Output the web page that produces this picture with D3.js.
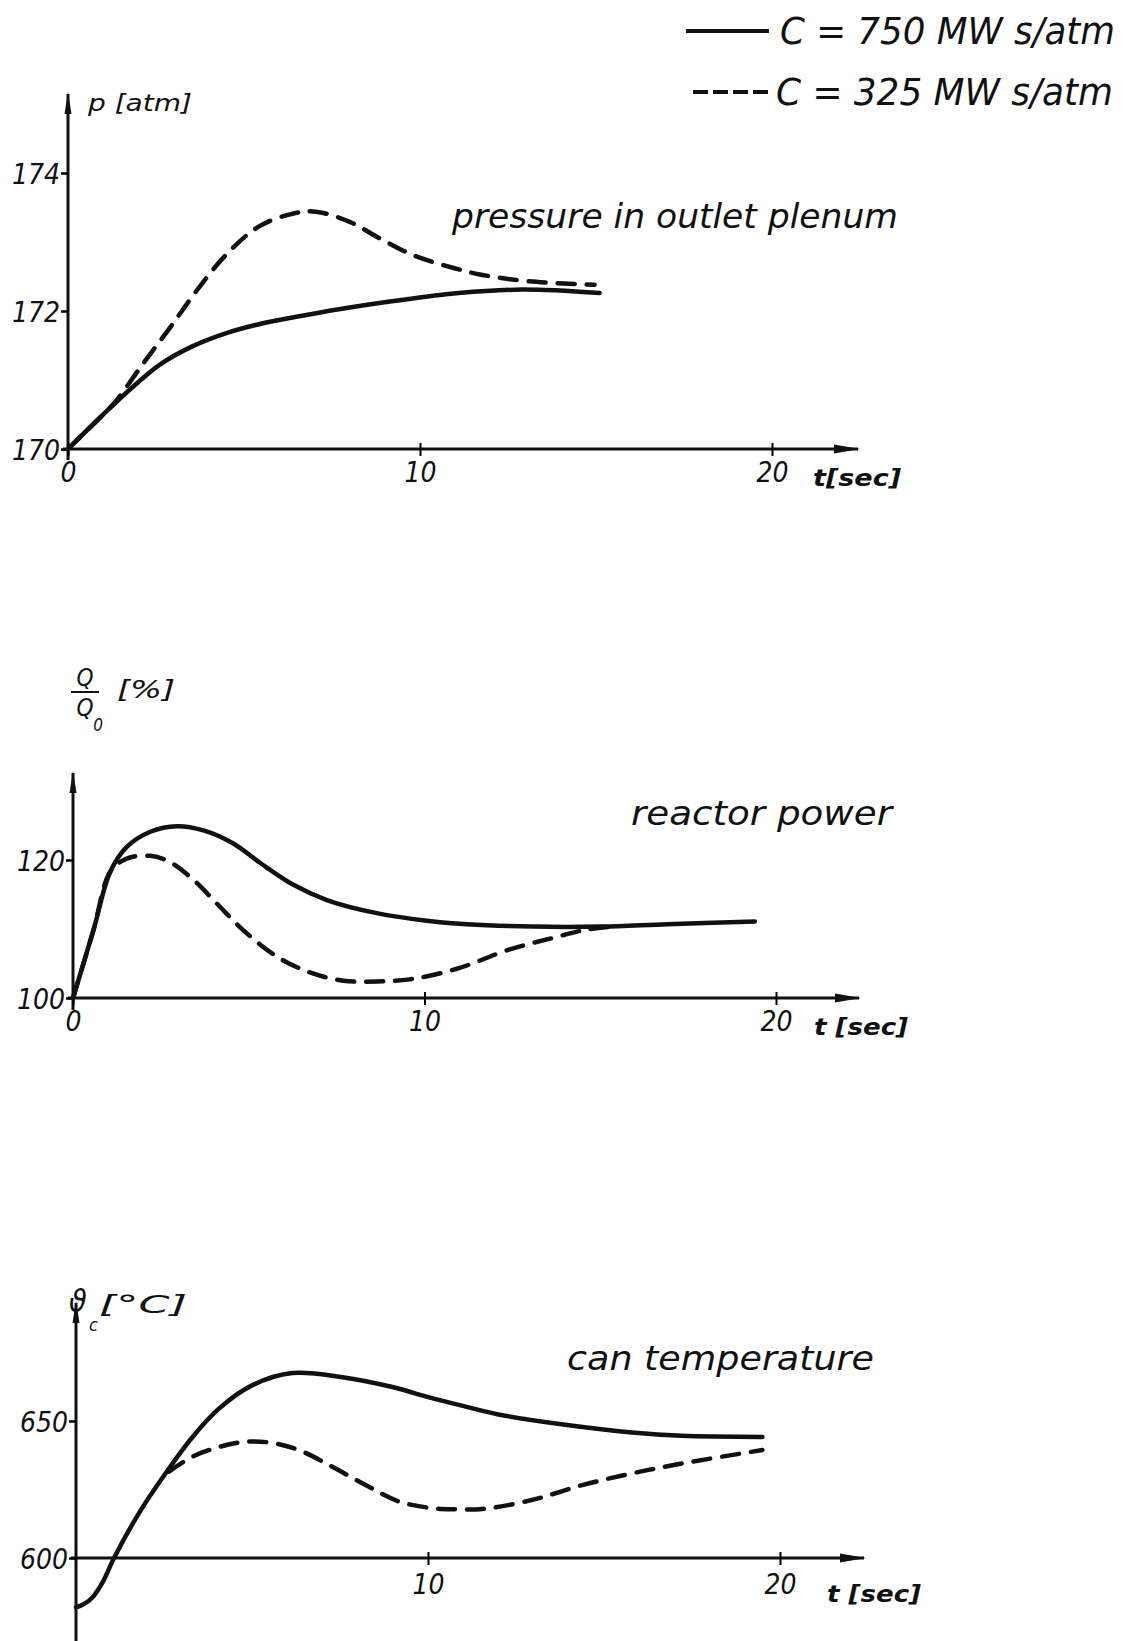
<!DOCTYPE html>
<html>
<head>
<meta charset="utf-8">
<script src="https://cdn.jsdelivr.net/npm/d3@7"></script>
<style>
  body { margin: 0; background: #fff; }
  text { font-family: "DejaVu Sans Condensed", "DejaVu Sans", sans-serif; font-style: italic; fill: #111; }
</style>
</head>
<body>
<div id="chart"></div>
<script>
// ---- data ----
const legendLabels = ["C = 750 MW s/atm", "C = 325 MW s/atm"];
const panelTitles = ["pressure in outlet plenum", "reactor power", "can temperature"];

// pressure in outlet plenum [atm]
const pTicks = [170, 172, 174];
const pTimeSolid = [0, 1.0, 1.8, 2.6, 3.5, 4.5, 5.6, 6.85, 8.0, 9.2, 11.1, 12.9, 15.1];
const pSolid = [170, 170.5, 170.88, 171.22, 171.48, 171.68, 171.83, 171.95, 172.05, 172.14, 172.26, 172.31, 172.26];
const pTimeDashed = [0, 1.0, 1.4, 2.15, 2.9, 3.65, 4.5, 5.44, 6.38, 7.03, 7.97, 8.9, 9.85, 10.98, 11.7, 13.1, 14.96];
const pDashed = [170, 170.5, 170.72, 171.25, 171.76, 172.29, 172.82, 173.23, 173.41, 173.44, 173.3, 173.04, 172.8, 172.62, 172.53, 172.43, 172.38];

// reactor power Q/Q0 [%]
const qTicks = [100, 120];
const qTimeSolid = [0, 0.58, 1.06, 1.53, 2.2, 2.95, 3.71, 4.56, 5.32, 6.27, 7.22, 8.64, 10.06, 11.2, 13.1, 15.0, 16.9, 19.4];
const qSolid = [100, 109.8, 118.3, 121.9, 124.1, 124.9, 124.3, 122.4, 119.6, 116.4, 114.2, 112.3, 111.2, 110.7, 110.35, 110.35, 110.7, 111.1];
const qTimeDashed = [0, 0.58, 1.06, 1.53, 2.2, 2.76, 3.43, 4.09, 4.85, 5.8, 6.74, 7.69, 8.64, 9.58, 10.9, 12.4, 13.65, 14.6, 15.5];
const qDashed = [100, 109.8, 118.3, 120.2, 120.6, 119.7, 117.1, 113.7, 109.8, 106.0, 103.7, 102.5, 102.4, 102.7, 104.2, 107, 108.7, 109.9, 110.4];

// can temperature [°C]
const cTicks = [600, 650];
const cTimeSolid = [0, 0.2, 0.46, 0.75, 1.08, 1.79, 2.55, 3.3, 4.06, 5.0, 6.14, 7.57, 8.99, 9.93, 10.9, 12.0, 13.9, 15.8, 17.2, 19.5];
const cSolid = [582, 583, 585.5, 591, 600, 616.4, 631, 644, 654.5, 663, 667.5, 666, 662.4, 659, 655.8, 652.4, 648.6, 645.8, 644.6, 644.2];
const cTimeDashed = [2.64, 3.3, 4.06, 4.82, 5.58, 6.33, 7.28, 8.23, 9.18, 10.12, 10.79, 11.54, 12.96, 14.38, 15.8, 17.22, 19.5];
const cDashed = [631.5, 636.9, 640.5, 642.4, 642, 639.4, 633.3, 626.6, 620.6, 618.2, 617.8, 617.9, 621.2, 626.6, 630.9, 634.5, 639.4];

// ---- setup ----
const width = 1123, height = 1641;
const svg = d3.select("#chart").append("svg")
    .attr("width", width)
    .attr("height", height);

const defs = svg.append("defs");
// arrow heads for the axes
defs.append("marker").attr("id", "arrowX")
    .attr("markerUnits", "userSpaceOnUse")
    .attr("viewBox", "0 0 26 12").attr("refX", 24).attr("refY", 6)
    .attr("markerWidth", 26).attr("markerHeight", 12).attr("orient", "auto")
    .append("path").attr("d", "M0,1.5 L26,6 L0,10.5 Z").attr("fill", "#111");
defs.append("marker").attr("id", "arrowY")
    .attr("markerUnits", "userSpaceOnUse")
    .attr("viewBox", "0 0 22 10").attr("refX", 20).attr("refY", 5)
    .attr("markerWidth", 22).attr("markerHeight", 10).attr("orient", "auto")
    .append("path").attr("d", "M0,1.5 L22,5 L0,8.5 Z").attr("fill", "#111");

const solidStyle = {width: 4.5, dash: null};
const dashedStyle = {width: 4.5, dash: "17,12"};

// legend (top right)
const legend = svg.append("g");
legend.append("line").attr("x1", 686).attr("x2", 769).attr("y1", 31).attr("y2", 31)
    .attr("stroke", "#111").attr("stroke-width", 4);
legend.append("text").attr("x", 780).attr("y", 44)
    .attr("textLength", 335).attr("lengthAdjust", "spacingAndGlyphs")
    .style("font-size", "37px").text(legendLabels[0]);
legend.append("line").attr("x1", 693).attr("x2", 773).attr("y1", 92).attr("y2", 92)
    .attr("stroke", "#111").attr("stroke-width", 4).attr("stroke-dasharray", "15,5");
legend.append("text").attr("x", 776).attr("y", 105)
    .attr("textLength", 337).attr("lengthAdjust", "spacingAndGlyphs")
    .style("font-size", "37px").text(legendLabels[1]);

function drawPanel(p) {
    const x = d3.scaleLinear().domain([0, 20]).range(p.xRange);
    const y = d3.scaleLinear().domain(p.yDomain).range(p.yRange);
    const y0 = y(p.yDomain[0]);
    const g = svg.append("g");

    // axes lines with arrows
    g.append("line")
        .attr("x1", x(0)).attr("x2", x(0))
        .attr("y1", p.yAxisBottom).attr("y2", p.yAxisTop)
        .attr("stroke", "#111").attr("stroke-width", 3)
        .attr("marker-end", "url(#arrowY)");
    g.append("line")
        .attr("x1", x(0) - 5).attr("x2", p.xAxisEnd)
        .attr("y1", y0).attr("y2", y0)
        .attr("stroke", "#111").attr("stroke-width", 3)
        .attr("marker-end", "url(#arrowX)");

    // y ticks
    const yAxis = d3.axisLeft(y).tickValues(p.yTicks).tickSize(7).tickPadding(1).tickFormat(d3.format("d"));
    const ya = g.append("g").attr("transform", `translate(${x(0)},0)`).call(yAxis);
    ya.select(".domain").remove();
    ya.selectAll(".tick line").attr("stroke-width", 2.5);
    ya.selectAll(".tick text").style("font-size", "28px").attr("dy", "0.36em");

    // x ticks
    const xAxis = d3.axisBottom(x).tickValues(p.xTicks).tickSize(7).tickPadding(p.xPad).tickFormat(d3.format("d"));
    const xa = g.append("g").attr("transform", `translate(0,${y0})`).call(xAxis);
    xa.select(".domain").remove();
    xa.selectAll(".tick line").attr("y1", -6).attr("stroke-width", 2);
    xa.selectAll(".tick text").style("font-size", "28px");

    // curves
    const line = d3.line()
        .x(d => x(d[0]))
        .y(d => y(d[1]))
        .curve(d3.curveCatmullRom.alpha(0.5));
    p.series.forEach(s => {
        g.append("path")
            .datum(d3.zip(s.t, s.v))
            .attr("d", line)
            .attr("fill", "none")
            .attr("stroke", "#111")
            .attr("stroke-width", s.style.width)
            .attr("stroke-linecap", "round")
            .attr("stroke-linejoin", "round")
            .attr("stroke-dasharray", s.style.dash);
    });

    // title and time label
    g.append("text").attr("x", p.title.x).attr("y", p.title.y)
        .attr("textLength", p.title.len).attr("lengthAdjust", "spacingAndGlyphs")
        .style("font-size", "34px").text(p.title.text);
    g.append("text").attr("x", p.tLabel.x).attr("y", p.tLabel.y)
        .attr("textLength", p.tLabel.len).attr("lengthAdjust", "spacingAndGlyphs")
        .style("font-size", "23px").style("font-weight", "bold").text(p.tLabel.text);
    return g;
}

// pressure panel
const g1 = drawPanel({
    xRange: [68, 772], yDomain: [170, 174], yRange: [449, 173],
    yTicks: pTicks, xTicks: [0, 10, 20], xPad: 6,
    yAxisTop: 94, yAxisBottom: 460, xAxisEnd: 858,
    series: [
        {t: pTimeSolid, v: pSolid, style: solidStyle},
        {t: pTimeDashed, v: pDashed, style: dashedStyle}
    ],
    title: {text: panelTitles[0], x: 452, y: 228, len: 446},
    tLabel: {text: "t[sec]", x: 813, y: 486, len: 88}
});
g1.append("text").attr("x", 88).attr("y", 111).style("font-size", "23px")
    .attr("textLength", 104).attr("lengthAdjust", "spacingAndGlyphs").text("p [atm]");

// reactor power panel
const g2 = drawPanel({
    xRange: [73, 776], yDomain: [100, 120], yRange: [998, 860],
    yTicks: qTicks, xTicks: [0, 10, 20], xPad: 6,
    yAxisTop: 773, yAxisBottom: 1010, xAxisEnd: 859,
    series: [
        {t: qTimeSolid, v: qSolid, style: solidStyle},
        {t: qTimeDashed, v: qDashed, style: dashedStyle}
    ],
    title: {text: panelTitles[1], x: 631, y: 825, len: 261},
    tLabel: {text: "t [sec]", x: 814, y: 1035, len: 94}
});
g2.append("text").attr("x", 85).attr("y", 686).attr("text-anchor", "middle").style("font-size", "24px").text("Q");
g2.append("line").attr("x1", 71).attr("x2", 99).attr("y1", 692).attr("y2", 692).attr("stroke", "#111").attr("stroke-width", 2);
g2.append("text").attr("x", 85).attr("y", 716).attr("text-anchor", "middle").style("font-size", "24px").text("Q");
g2.append("text").attr("x", 98).attr("y", 731).attr("text-anchor", "middle").style("font-size", "17px").text("0");
g2.append("text").attr("x", 117).attr("y", 698).style("font-size", "24px")
    .attr("textLength", 58).attr("lengthAdjust", "spacingAndGlyphs").text("[%]");

// can temperature panel
const g3 = drawPanel({
    xRange: [76, 780], yDomain: [600, 650], yRange: [1558, 1421],
    yTicks: cTicks, xTicks: [10, 20], xPad: 9,
    yAxisTop: 1303, yAxisBottom: 1641, xAxisEnd: 864,
    series: [
        {t: cTimeSolid, v: cSolid, style: solidStyle},
        {t: cTimeDashed, v: cDashed, style: dashedStyle}
    ],
    title: {text: panelTitles[2], x: 567, y: 1370, len: 307},
    tLabel: {text: "t [sec]", x: 827, y: 1602, len: 94}
});
g3.append("text").attr("x", 69).attr("y", 1312).style("font-size", "32px").text("ϑ");
g3.append("text").attr("x", 89).attr("y", 1331).style("font-size", "18px").text("c");
g3.append("text").attr("x", 99).attr("y", 1313).style("font-size", "25px")
    .attr("textLength", 88).attr("lengthAdjust", "spacingAndGlyphs").text("[°C]");
</script>
</body>
</html>
